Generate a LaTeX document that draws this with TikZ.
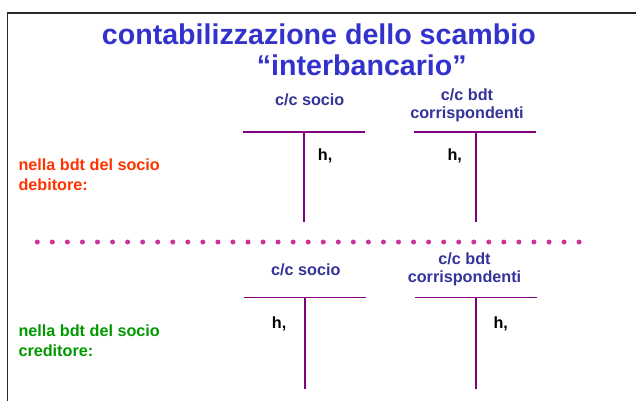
\documentclass[tikz,border=0pt]{standalone}
\usepackage{fontspec}
\setmainfont{Liberation Sans}
\definecolor{titleblue}{RGB}{51,51,204}
\definecolor{labelblue}{RGB}{51,51,153}
\definecolor{tpurple}{RGB}{128,0,128}
\definecolor{dotmag}{RGB}{204,51,153}
\definecolor{redlab}{RGB}{255,51,0}
\definecolor{greenlab}{RGB}{0,153,0}
\definecolor{framegray}{RGB}{40,40,40}
\tikzset{
  txt/.style={inner sep=0pt, font=\bfseries\fontsize{16.2}{19}\selectfont},
  ttl/.style={inner sep=0pt, text=titleblue, font=\bfseries\fontsize{28.6}{31}\selectfont, anchor=base west},
  acct/.style={txt, text=labelblue, anchor=base},
  hlab/.style={txt, text=black, anchor=base west},
  redtxt/.style={txt, text=redlab, anchor=base west},
  greentxt/.style={txt, text=greenlab, anchor=base west},
  tline/.style={draw=tpurple, line width=1.6pt},
  framel/.style={draw=framegray, line width=1.8pt}
}
\begin{document}
\begin{tikzpicture}[x=1pt,y=-1pt]
\useasboundingbox (0,0) rectangle (636,400);
% frame
\coordinate (fb) at (7.5,405);
\coordinate (ftl) at (7.5,13);
\coordinate (fr) at (640,13);
\draw[framel] (fb) -- (ftl) -- (fr);
% title
\node[ttl] (title1) at (101.7,44.8) {contabilizzazione dello scambio};
\node[ttl] (title2) at (256.7,75) {“interbancario”};
% top accounts
\node[acct] (s1) at (309.7,105) {c/c socio};
\node[acct] (b1a) at (467,100) {c/c bdt};
\node[acct] (b1b) at (467,118.5) {corrispondenti};
\coordinate (t1l) at (243.3,131.7);
\coordinate (t1r) at (365,131.7);
\coordinate (t1t) at (304,131.7);
\coordinate (t1b) at (304,222.3);
\draw[tline] (t1l) -- (t1r);
\draw[tline] (t1t) -- (t1b);
\coordinate (t2l) at (414.3,131.7);
\coordinate (t2r) at (536,131.7);
\coordinate (t2t) at (475.7,131.7);
\coordinate (t2b) at (475.7,222.3);
\draw[tline] (t2l) -- (t2r);
\draw[tline] (t2t) -- (t2b);
\node[hlab] (h1) at (317.7,160.7) {h,};
\node[hlab] (h2) at (447.3,160.7) {h,};
\node[redtxt] (r1) at (18.3,170.7) {nella bdt del socio};
\node[redtxt] (r2) at (18.3,190) {debitore:};
% dotted separator
\foreach \i in {0,...,36} {
  \fill[dotmag] (37.3+\i*15.05,242) circle (2.5);
}
% bottom accounts
\node[acct] (s2) at (305.8,275) {c/c socio};
\node[acct] (b2a) at (464.5,264.3) {c/c bdt};
\node[acct] (b2b) at (464.5,282.7) {corrispondenti};
\coordinate (t3l) at (244,297.3);
\coordinate (t3r) at (366,297.3);
\coordinate (t3t) at (305,297.3);
\coordinate (t3b) at (305,389);
\draw[tline] (t3l) -- (t3r);
\draw[tline] (t3t) -- (t3b);
\coordinate (t4l) at (415,297.3);
\coordinate (t4r) at (536.7,297.3);
\coordinate (t4t) at (476,297.3);
\coordinate (t4b) at (476,389);
\draw[tline] (t4l) -- (t4r);
\draw[tline] (t4t) -- (t4b);
\node[hlab] (h3) at (271.7,328) {h,};
\node[hlab] (h4) at (493.3,328) {h,};
\node[greentxt] (g1) at (18.3,336.7) {nella bdt del socio};
\node[greentxt] (g2) at (18.3,356) {creditore:};
\end{tikzpicture}
\end{document}
